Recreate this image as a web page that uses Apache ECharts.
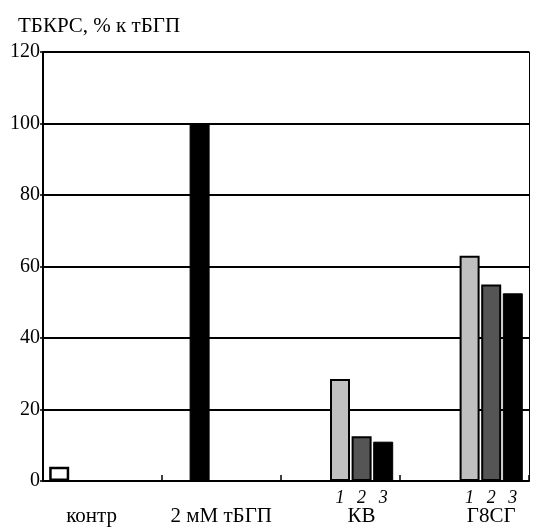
<!DOCTYPE html>
<html>
<head>
<meta charset="utf-8">
<script src="https://cdn.jsdelivr.net/npm/echarts@6/dist/echarts.min.js"></script>
<style>html,body{margin:0;padding:0;background:#fff}#c{width:533px;height:527px}</style>
</head>
<body>
<div id="c"></div>
<script>
// ---- data ----
const groupNames = ['контр', '2 мМ тБГП', 'КВ', 'Г8СГ'];
const subLabels = ['1', '2', '3'];
const contrValues = [4];
const tbgpValues = [100];
const kvValues = [28.5, 12.5, 11];
const g8sgValues = [63, 55, 52.5];
const yTickValues = [0, 20, 40, 60, 80, 100, 120];

// ---- layout (slot grid on a category axis) ----
const slotCount = 45;
const contrSlots = [1];
const tbgpSlots = [14];
const kvSlots = [27, 29, 31];
const g8sgSlots = [39, 41, 43];
const groupLabelSlots = [4, 16, 29, 41];
const boundaryTickSlots = [11, 22, 33];

const styleWhite = { color: '#ffffff', borderColor: '#000', borderWidth: 2.5 };
const styleBlack = { color: '#000000', borderColor: '#000', borderWidth: 1 };
const styleLight = { color: '#c0c0c0', borderColor: '#000', borderWidth: 2 };
const styleDark = { color: '#555555', borderColor: '#000', borderWidth: 2 };
const triStyles = [styleLight, styleDark, styleBlack];

const subCats = new Array(slotCount).fill('');
const groupCats = new Array(slotCount).fill('');
const barData = new Array(slotCount).fill('-');

contrSlots.forEach((s, i) => { barData[s] = { value: contrValues[i], itemStyle: styleWhite }; });
tbgpSlots.forEach((s, i) => { barData[s] = { value: tbgpValues[i], itemStyle: styleBlack }; });
kvSlots.forEach((s, i) => { barData[s] = { value: kvValues[i], itemStyle: triStyles[i] }; subCats[s] = subLabels[i]; });
g8sgSlots.forEach((s, i) => { barData[s] = { value: g8sgValues[i], itemStyle: triStyles[i] }; subCats[s] = subLabels[i]; });
groupLabelSlots.forEach((s, i) => { groupCats[s] = groupNames[i]; });
const subCatsU = subCats.map((v, i) => v === '' ? ' '.repeat(i + 1) : v + '\u200b'.repeat(i));
const groupCatsU = groupCats.map((v, i) => v === '' ? ' '.repeat(i + 1) : v);

const serif = 'Liberation Serif';
const chart = echarts.init(document.getElementById('c'), null, { renderer: 'canvas' });
chart.setOption({
  animation: false,
  backgroundColor: '#fff',
  title: {
    text: 'ТБКРС, % к тБГП',
    left: 13, top: 11,
    textStyle: { fontFamily: serif, fontSize: 21, fontWeight: 'normal', color: '#000' }
  },
  grid: { left: 43, right: 4, top: 52, bottom: 44 },
  xAxis: [
    {
      type: 'category',
      data: subCatsU,
      boundaryGap: true,
      axisLine: { show: true, lineStyle: { color: '#000', width: 2 } },
      axisTick: {
        show: true, inside: true, length: 6,
        interval: (idx) => boundaryTickSlots.includes(idx),
        lineStyle: { color: '#000', width: 1.5 }
      },
      axisLabel: {
        interval: 0, margin: 8,
        fontFamily: serif, fontStyle: 'italic', fontSize: 18, color: '#000',
        formatter: (v) => v.trim().replace(/\u200b/g, '')
      },
      splitLine: { show: false }
    },
    {
      type: 'category',
      position: 'bottom',
      data: groupCatsU,
      boundaryGap: true,
      axisLine: { show: false },
      axisTick: { show: false },
      axisLabel: {
        interval: 0, margin: 25,
        fontFamily: serif, fontSize: 21, color: '#000',
        formatter: (v) => v.trim()
      },
      splitLine: { show: false }
    }
  ],
  yAxis: [
    {
      type: 'value',
      min: 0, max: 120, interval: 20,
      axisLine: { show: true, lineStyle: { color: '#000', width: 2 } },
      axisTick: { show: true, length: 3, lineStyle: { color: '#000', width: 1.5 } },
      axisLabel: {
        margin: 3, fontFamily: serif, fontSize: 20, color: '#000',
        formatter: (v) => yTickValues.includes(v) ? String(v) : ''
      },
      splitLine: { show: true, lineStyle: { color: '#000', width: 1.8 } }
    },
    {
      type: 'value',
      position: 'right',
      min: 0, max: 120, interval: 20,
      axisLine: { show: true, lineStyle: { color: '#000', width: 1 } },
      axisTick: { show: false },
      axisLabel: { show: false },
      splitLine: { show: false }
    }
  ],
  series: [
    {
      type: 'bar',
      xAxisIndex: 0,
      yAxisIndex: 0,
      data: barData,
      barWidth: 20,
      label: { show: false }
    }
  ]
});
</script>
</body>
</html>
